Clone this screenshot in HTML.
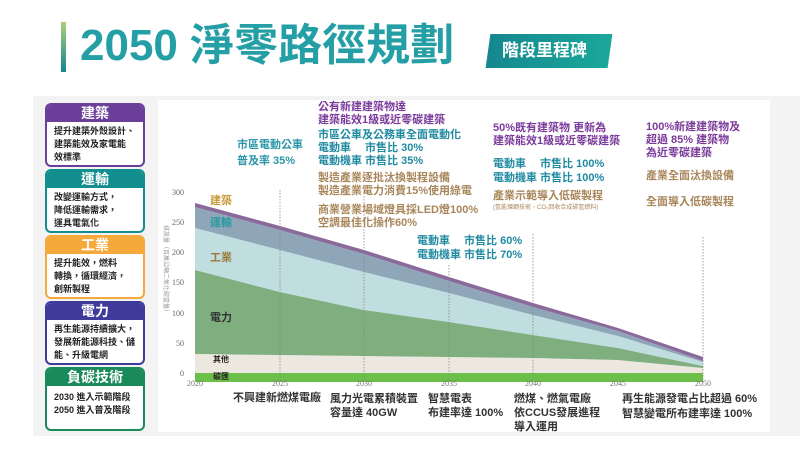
<!DOCTYPE html>
<html><head><meta charset="utf-8"><style>
body{margin:0;width:800px;height:450px;background:#fff;position:relative;overflow:hidden;font-family:"Liberation Sans","Noto Sans CJK TC",sans-serif}
.a{position:absolute;white-space:nowrap;line-height:1.25}
.n{font-size:11px;font-weight:bold;line-height:13px}
.box{position:absolute;left:45px;width:96px;border:2px solid;border-radius:6px;background:#fff;overflow:hidden}
.box .h{color:#fff;font-weight:bold;font-size:14px;text-align:center;height:17px;line-height:17px}
.box .b{font-size:9px;font-weight:bold;color:#222;padding:3px 0 0 7px;line-height:13px}
</style></head><body>
<div style="position:absolute;left:33px;top:96px;width:767px;height:340px;background:#f3f3f3"></div>
<div style="position:absolute;left:158px;top:100px;width:612px;height:332px;background:#fff"></div>
<div style="position:absolute;left:61px;top:22px;width:5px;height:50px;background:linear-gradient(#a8d07a,#13878f)"></div>
<div class="a" style="left:80px;top:18px;font-size:44px;font-weight:bold;color:#259fa6">2050 淨零路徑規劃</div>
<div style="position:absolute;left:488px;top:34px;width:122px;height:34px;background:linear-gradient(90deg,#15878f,#1aa89a);transform:skewX(-8deg)"></div>
<div class="a" style="left:502px;top:40px;font-size:17px;font-weight:bold;color:#fff">階段里程碑</div>

<div class="box" style="top:103px;height:60px;border-color:#6b3f99"><div class="h" style="background:#6b3f99">建築</div><div class="b">提升建築外殼設計、<br>建築能效及家電能<br>效標準</div></div>
<div class="box" style="top:169px;height:60px;border-color:#138e8e"><div class="h" style="background:#138e8e">運輸</div><div class="b">改變運輸方式，<br>降低運輸需求，<br>運具電氣化</div></div>
<div class="box" style="top:235px;height:60px;border-color:#f5a93a"><div class="h" style="background:#f5a93a">工業</div><div class="b">提升能效，燃料<br>轉換，循環經濟，<br>創新製程</div></div>
<div class="box" style="top:301px;height:60px;border-color:#3f3b9a"><div class="h" style="background:#3f3b9a">電力</div><div class="b">再生能源持續擴大，<br>發展新能源科技、儲<br>能、升級電網</div></div>
<div class="box" style="top:367px;height:60px;border-color:#1b8a5a"><div class="h" style="background:#1b8a5a">負碳技術</div><div class="b" style="padding-top:5px">2030 進入示範階段<br>2050 進入普及階段</div></div>

<svg style="position:absolute;left:0;top:0" width="800" height="450">
<g font-family="Liberation Serif" font-size="8" fill="#666" text-anchor="end">
<text x="184" y="195">300</text><text x="184" y="225">250</text><text x="184" y="255">200</text><text x="184" y="285">150</text><text x="184" y="316">100</text><text x="184" y="346">50</text><text x="184" y="376">0</text></g>
<text transform="translate(164,270) rotate(90)" font-size="6" fill="#999" text-anchor="middle" style="writing-mode:horizontal-tb">排放量（百萬公噸二氧化碳當量）</text>
<polygon fill="#ece8e0" points="195,354 280,355 364,356 449,357 533,358 618,360 703,368 703,373 195,373"/>
<polygon fill="#7fae7f" points="195,270 280,292 364,310 449,322 533,335 618,348 703,366 703,368 618,360 533,358 449,357 364,356 280,355 195,354"/>
<polygon fill="#c0dde0" points="195,228 280,250 364,272 449,293 533,315 618,336 703,362 703,366 618,348 533,335 449,322 364,310 280,292 195,270"/>
<polygon fill="#8fa5b8" points="195,207 280,230 364,254 449,281 533,307 618,331 703,361 703,362 618,336 533,315 449,293 364,272 280,250 195,228"/>
<polygon fill="#8a6a9a" points="195,203 280,226 364,250 449,277 533,303 618,328 703,357 703,361 618,331 533,307 449,281 364,254 280,230 195,207"/>
<rect x="195" y="373" width="508" height="9" fill="#6cc04a"/>
<g stroke="#888" stroke-dasharray="1.5,1.5" stroke-width="0.8">
<line x1="280" y1="190" x2="280" y2="382"/><line x1="364" y1="190" x2="364" y2="382"/><line x1="449" y1="265" x2="449" y2="382"/><line x1="533" y1="234" x2="533" y2="382"/><line x1="703" y1="237" x2="703" y2="382"/></g>
<g font-family="Liberation Serif" font-size="8" fill="#777" text-anchor="middle">
<text x="195" y="386">2020</text><text x="280" y="386">2025</text><text x="364" y="386">2030</text><text x="449" y="386">2035</text><text x="533" y="386">2040</text><text x="618" y="386">2045</text><text x="703" y="386">2050</text></g>
</svg>
<div class="a n" style="left:210px;top:195px;color:#c8973a">建築</div>
<div class="a n" style="left:210px;top:217px;color:#2a9aa0">運輸</div>
<div class="a n" style="left:210px;top:252px;color:#9a7a3a">工業</div>
<div class="a n" style="left:210px;top:312px;color:#333">電力</div>
<div class="a" style="left:213px;top:355px;font-size:8px;color:#222;font-weight:bold">其他</div>
<div class="a" style="left:213px;top:372px;font-size:8px;color:#222;font-weight:bold">碳匯</div>

<div class="a n" style="left:237px;top:137px;color:#2a96a8;line-height:16px">市區電動公車<br>普及率 35%</div>
<div class="a n" style="left:318px;top:101px;color:#7a3a9a">公有新建建築物達<br>建築能效1級或近零碳建築</div>
<div class="a n" style="left:318px;top:129px;color:#1f8aa0">市區公車及公務車全面電動化<br>電動車　 市售比 30%<br>電動機車 市售比 35%</div>
<div class="a n" style="left:318px;top:172px;color:#a8865a">製造產業逐批汰換製程設備<br>製造產業電力消費15%使用綠電</div>
<div class="a n" style="left:318px;top:204px;color:#a8865a">商業營業場域燈具採LED燈100%<br>空調最佳化操作60%</div>
<div class="a n" style="left:417px;top:234px;color:#1f8aa0;line-height:14px">電動車　 市售比 60%<br>電動機車 市售比 70%</div>
<div class="a n" style="left:493px;top:122px;color:#7a3a9a">50%既有建築物 更新為<br>建築能效1級或近零碳建築</div>
<div class="a n" style="left:493px;top:157px;color:#1f8aa0;line-height:14px">電動車　 市售比 100%<br>電動機車 市售比 100%</div>
<div class="a n" style="left:493px;top:190px;color:#a8865a">產業示範導入低碳製程</div>
<div class="a" style="left:493px;top:205px;font-size:6px;color:#a8865a">(氫能煉鋼技術、CO₂回收合成碳氫燃料)</div>
<div class="a n" style="left:646px;top:121px;color:#7a3a9a">100%新建建築物及<br>超過 85% 建築物<br>為近零碳建築</div>
<div class="a n" style="left:646px;top:170px;color:#a8865a">產業全面汰換設備</div>
<div class="a n" style="left:646px;top:196px;color:#a8865a">全面導入低碳製程</div>

<div class="a n" style="left:233px;top:392px;color:#333">不興建新燃煤電廠</div>
<div class="a n" style="left:330px;top:392px;color:#333;line-height:14px">風力光電累積裝置<br>容量達 40GW</div>
<div class="a n" style="left:428px;top:392px;color:#333;line-height:14px">智慧電表<br>布建率達 100%</div>
<div class="a n" style="left:514px;top:392px;color:#333;line-height:14px">燃煤、燃氣電廠<br>依CCUS發展進程<br>導入運用</div>
<div class="a n" style="left:622px;top:392px;color:#333;line-height:15px">再生能源發電占比超過 60%<br>智慧變電所布建率達 100%</div>
</body></html>
